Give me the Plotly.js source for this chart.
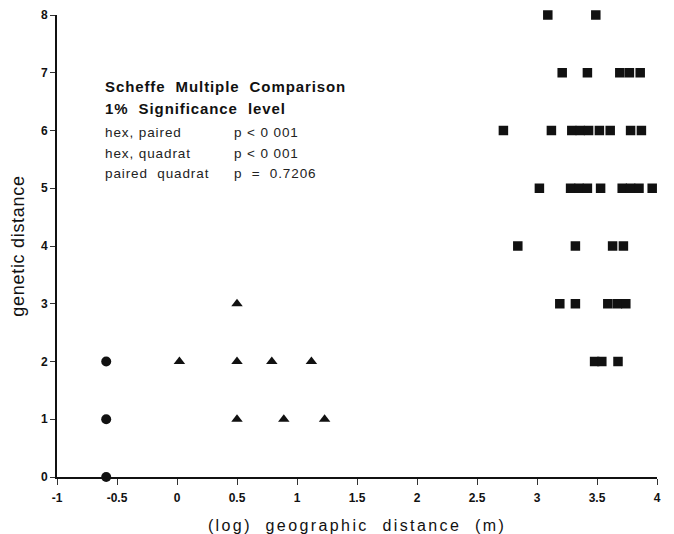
<!DOCTYPE html>
<html><head><meta charset="utf-8">
<script src="https://cdn.plot.ly/plotly-3.0.1.min.js"></script>
<style>
html,body{margin:0;padding:0;background:#fff}
.xtitle{letter-spacing:2.4px}
.ytitle{letter-spacing:0.7px}
.annotation-text{letter-spacing:0.9px}
</style>
</head><body><div id="chart" style="width:674px;height:534px"></div>
<script>
// Data
const circlesX = [-0.59, -0.59, -0.59];
const circlesY = [0, 1, 2];
const trianglesX = [0.5, 0.02, 0.5, 0.79, 1.12, 0.5, 0.89, 1.23];
const trianglesY = [3, 2, 2, 2, 2, 1, 1, 1];
const squaresX = [
  3.09, 3.49,
  3.21, 3.42, 3.69, 3.77, 3.86,
  2.72, 3.12, 3.29, 3.36, 3.43, 3.52, 3.61, 3.78, 3.87,
  3.02, 3.28, 3.35, 3.42, 3.53, 3.71, 3.78, 3.85, 3.96,
  2.84, 3.32, 3.63, 3.72,
  3.19, 3.32, 3.59, 3.67, 3.74,
  3.48, 3.54, 3.675
];
const squaresY = [
  8, 8,
  7, 7, 7, 7, 7,
  6, 6, 6, 6, 6, 6, 6, 6, 6,
  5, 5, 5, 5, 5, 5, 5, 5, 5,
  4, 4, 4, 4,
  3, 3, 3, 3, 3,
  2, 2, 2
];
const xTickVals = [-1, -0.5, 0, 0.5, 1, 1.5, 2, 2.5, 3, 3.5, 4];
const xTickText = ["-1", "-0.5", "0", "0.5", "1", "1.5", "2", "2.5", "3", "3.5", "4"];
const yTickVals = [0, 1, 2, 3, 4, 5, 6, 7, 8];
const statLabels = ["hex, paired", "hex, quadrat", "paired  quadrat"];
const statValues = ["p < 0 001", "p < 0 001", "p  =  0.7206"];
const headerLines = ["Scheffe  Multiple  Comparison", "1%  Significance  level"];

const font = "Liberation Sans, Arial, Helvetica, sans-serif";
const mk = (sym, size) => ({symbol: sym, size: size, color: "#111", line: {width: 0}});

const traces = [
  {x: circlesX, y: circlesY, type: "scatter", mode: "markers", marker: mk("circle", 10), cliponaxis: false},
  {x: trianglesX, y: trianglesY, type: "scatter", mode: "markers", marker: mk("triangle-up", 10), cliponaxis: false},
  {x: squaresX, y: squaresY, type: "scatter", mode: "markers", marker: mk("square", 9.5), cliponaxis: false}
];

const annotations = [];
const headerY = [6.77, 6.38];
headerLines.forEach((t, i) => annotations.push({
  x: -0.615, y: headerY[i], xref: "x", yref: "y", text: t.replace(/ /g, "\u00a0"),
  showarrow: false, xanchor: "left", yanchor: "middle",
  font: {family: font, size: 15, color: "#111", weight: "bold"}
}));
const statY = [5.96, 5.6, 5.25];
statLabels.forEach((t, i) => {
  annotations.push({x: -0.62, y: statY[i], xref: "x", yref: "y", text: t.replace(/ /g, "\u00a0"),
    showarrow: false, xanchor: "left", yanchor: "middle", font: {family: font, size: 13.5, color: "#222"}});
  annotations.push({x: 0.46, y: statY[i], xref: "x", yref: "y", text: statValues[i].replace(/ /g, "\u00a0"),
    showarrow: false, xanchor: "left", yanchor: "middle", font: {family: font, size: 13.5, color: "#222"}});
});

const layout = {
  width: 674, height: 534,
  margin: {l: 57, r: 17, t: 15, b: 57},
  paper_bgcolor: "#fff", plot_bgcolor: "#fff",
  showlegend: false,
  font: {family: font, color: "#111"},
  xaxis: {
    range: [-1, 4], tickvals: xTickVals, ticktext: xTickText,
    showgrid: false, zeroline: false, showline: true, linecolor: "#111", linewidth: 2,
    ticks: "outside", ticklen: 6, tickcolor: "#333", tickwidth: 1, ticklabelstandoff: 3,
    tickfont: {family: font, size: 12, weight: "bold"},
    title: {text: "(log)\u00a0\u00a0geographic\u00a0\u00a0distance\u00a0\u00a0(m)", font: {family: font, size: 16}, standoff: 15}
  },
  yaxis: {
    range: [0, 8], tickvals: yTickVals,
    showgrid: false, zeroline: false, showline: true, linecolor: "#111", linewidth: 2,
    ticks: "outside", ticklen: 5, tickcolor: "#333", tickwidth: 1,
    tickfont: {family: font, size: 12, weight: "bold"},
    title: {text: "genetic distance", font: {family: font, size: 18}, standoff: 12}
  },
  annotations: annotations
};

Plotly.newPlot("chart", traces, layout, {displayModeBar: false, staticPlot: true});
</script>
</body></html>
